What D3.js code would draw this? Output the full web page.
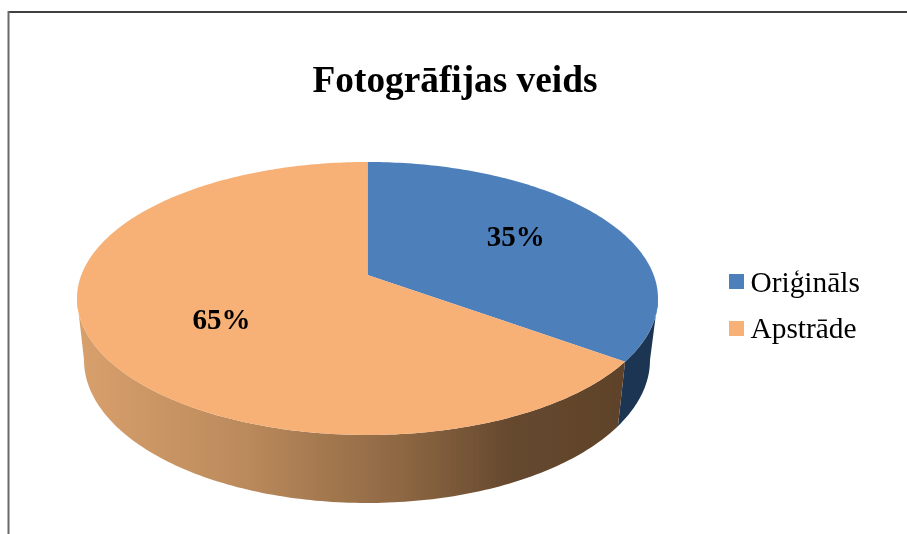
<!DOCTYPE html>
<html>
<head>
<meta charset="utf-8">
<script src="https://cdn.jsdelivr.net/npm/d3@7"></script>
<style>
    html, body { margin: 0; padding: 0; background: #fff; }
    svg { display: block; }
    text { font-family: "Liberation Serif", serif; fill: #000; }
</style>
</head>
<body>
<svg id="chart" width="907" height="534"></svg>
<script>
const CATEGORIES = ['Oriģināls', 'Apstrāde'];
const SHARES = [35, 65];
const TITLE = 'Fotogrāfijas veids';

const WIDTH = 907;
const HEIGHT = 534;
const TOP_COLORS = ['#4d7fbb', '#f7b076'];
const LEGEND_SWATCH_Y = [274, 321];
const LEGEND_TEXT_Y = [292, 338];

// how far the pie apex sits from the ellipse centre, in ellipse units
const APEX_SHIFT = -0.172;

const root = d3.select('#chart');

const defs = root.append('defs');
const sideGradient = defs.append('linearGradient')
    .attr('id', 'side-orange')
    .attr('gradientUnits', 'userSpaceOnUse')
    .attr('x1', 84).attr('x2', 620).attr('y1', 0).attr('y2', 0);
[[0, '#d79f6b'], [0.3, '#bb8a5c'], [0.6, '#8c6642'], [0.8, '#65482e'], [1, '#5f432a']].forEach(([offset, color]) => {
    sideGradient.append('stop').attr('offset', offset).attr('stop-color', color);
});
const SIDE_FILLS = ['#1f3552', 'url(#side-orange)'];

// the reference is a slightly soft scan
defs.append('filter').attr('id', 'soft')
    .append('feGaussianBlur').attr('stdDeviation', 0.35);

const svg = root.append('g').attr('filter', 'url(#soft)');

// frame: only the top and left edges show in the picture
svg.append('line').attr('x1', 8).attr('x2', WIDTH + 4).attr('y1', 12).attr('y2', 12)
    .attr('stroke', '#404040').attr('stroke-width', 2);
svg.append('line').attr('x1', 8.5).attr('x2', 8.5).attr('y1', 11).attr('y2', HEIGHT + 4)
    .attr('stroke', '#6a6a6a').attr('stroke-width', 2);

svg.append('text')
    .attr('x', 455)
    .attr('y', 92)
    .attr('text-anchor', 'middle')
    .attr('font-size', 37.3)
    .attr('font-weight', 700)
    .text(TITLE);

// circle -> ellipse with the centre pushed back, as in a tilted 3D pie
function project(angle, radius = 1) {
    const x = radius * Math.sin(angle);
    const y = -radius * Math.cos(angle);
    const w = 1 + APEX_SHIFT * y;
    return [x * Math.sqrt(1 - APEX_SHIFT * APEX_SHIFT) / w, (y + APEX_SHIFT) / w];
}

const topX = d3.scaleLinear().domain([-1, 1]).range([77, 658]);
const topY = d3.scaleLinear().domain([-1, 1]).range([162, 435]);
const bottomX = d3.scaleLinear().domain([-1, 1]).range([84, 650]);
const bottomY = d3.scaleLinear().domain([-1, 1]).range([217, 503]);

const slices = d3.pie().sort(null)(SHARES);
const line = d3.line();

function rim(from, to, xScale, yScale) {
    const steps = Math.ceil((to - from) * 60);
    return d3.range(steps + 1).map((i) => {
        const [x, y] = project(from + (to - from) * i / steps);
        return [xScale(x), yScale(y)];
    });
}

// only the front of the wall shows; it starts where the ellipse is widest
const WIDEST = Math.acos(APEX_SHIFT);
function frontWall(slice) {
    const from = Math.max(slice.startAngle, WIDEST);
    const to = Math.min(slice.endAngle, 2 * Math.PI - WIDEST);
    return rim(from, to, topX, topY).concat(rim(from, to, bottomX, bottomY).reverse());
}

const apex = project(0, 0);

svg.append('g').selectAll('path')
    .data(slices)
    .enter()
    .append('path')
    .attr('fill', (d, i) => SIDE_FILLS[i])
    .attr('d', (d) => line(frontWall(d)) + 'Z');

svg.append('g').selectAll('path')
    .data(slices)
    .enter()
    .append('path')
    .attr('fill', (d, i) => TOP_COLORS[i])
    .attr('d', (d) => line(rim(d.startAngle, d.endAngle, topX, topY).concat([[topX(apex[0]), topY(apex[1])]])) + 'Z');

const labelOffsets = [[9, 4], [6, 18]];
svg.append('g').selectAll('text')
    .data(slices)
    .enter()
    .append('text')
    .attr('font-size', 29)
    .attr('font-weight', 700)
    .attr('text-anchor', 'middle')
    .attr('x', (d, i) => topX(project((d.startAngle + d.endAngle) / 2, 0.57)[0]) + labelOffsets[i][0])
    .attr('y', (d, i) => topY(project((d.startAngle + d.endAngle) / 2, 0.57)[1]) + labelOffsets[i][1])
    .text((d) => `${d.value}%`);

const legend = svg.append('g').selectAll('g')
    .data(CATEGORIES)
    .enter()
    .append('g');

legend.append('rect')
    .attr('x', 729)
    .attr('y', (d, i) => LEGEND_SWATCH_Y[i])
    .attr('width', 15)
    .attr('height', 15)
    .attr('fill', (d, i) => TOP_COLORS[i]);

legend.append('text')
    .attr('x', 750.5)
    .attr('y', (d, i) => LEGEND_TEXT_Y[i])
    .attr('font-size', 29.4)
    .text((d) => d);
</script>
</body>
</html>
